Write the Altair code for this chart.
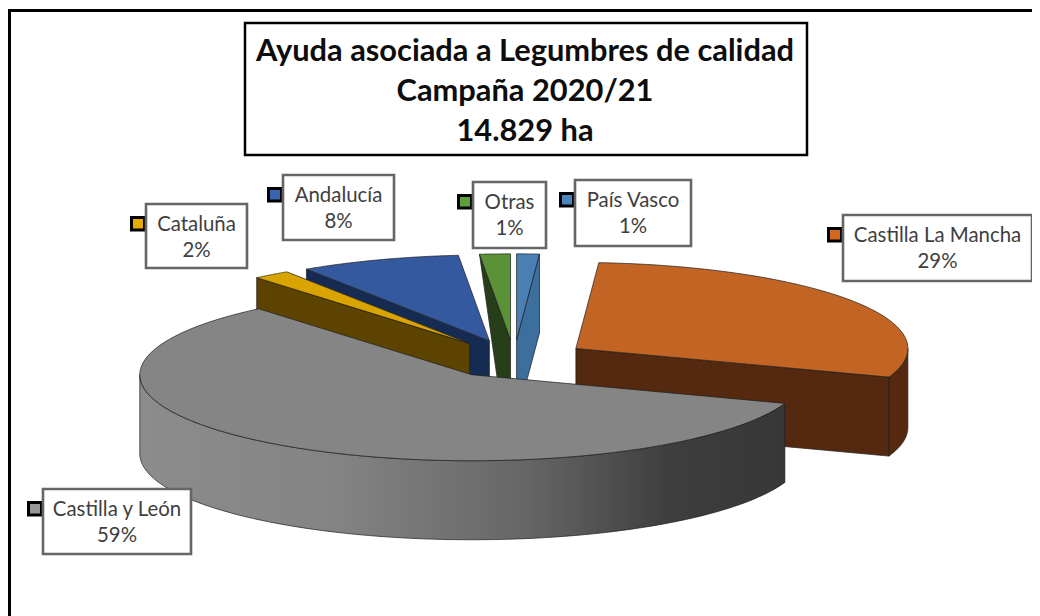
import numpy as np
import pandas as pd
import altair as alt

# ---- data ----
regions = ["País Vasco", "Castilla La Mancha", "Castilla y León", "Cataluña", "Andalucía", "Otras"]
shares = [1.1, 29.3, 58.51, 1.8, 7.8, 1.49]
title_lines = ["Ayuda asociada a Legumbres de calidad", "Campaña 2020/21", "14.829 ha"]

# ---- styles ----
top_col = {"País Vasco": "#4A7FB3", "Castilla La Mancha": "#C26524", "Castilla y León": "#858585",
           "Cataluña": "#D9A300", "Andalucía": "#34599F", "Otras": "#5B9137"}
side_col = {"País Vasco": "#3C6F9E", "Castilla La Mancha": "#54290F", "Castilla y León": "#555555",
            "Cataluña": "#5C4300", "Andalucía": "#162B52", "Otras": "#273F18"}
key_col = {"País Vasco": "#4A86BC", "Castilla La Mancha": "#D2691E", "Castilla y León": "#969696",
           "Cataluña": "#E5AC00", "Andalucía": "#3A64B0", "Otras": "#5F9E3A"}
edge = "#1c1c1c"
font = "Lato"

# ---- layout (pie projection and label boxes) ----
CX, CY = 514.0, 359.0
A, B = 332.0, 86.0
DEPTH = 79.0
EXPLODE = 0.223
PAGE_W, PAGE_H = 1032, 616
box_layout = {  # x0, x1, y0, y1
    "Cataluña": (146, 247, 204, 268),
    "Andalucía": (283, 394, 175, 240),
    "Otras": (473, 546, 182, 248),
    "País Vasco": (575, 691, 180, 246),
    "Castilla La Mancha": (843, 1032, 215, 281),
    "Castilla y León": (43, 191, 489, 554),
}

xs = alt.Scale(domain=[8, PAGE_W], range=[0, PAGE_W - 8], nice=False, zero=False)
ys = alt.Scale(domain=[8, PAGE_H], range=[0, PAGE_H - 8], nice=False, zero=False)
X = lambda f="x": alt.X(f"{f}:Q", scale=xs, axis=None)
Y = lambda f="y": alt.Y(f"{f}:Q", scale=ys, axis=None)


def poly(points, fill, stroke=edge, sw=0.7):
    pts = list(points) + [points[0]]
    df = pd.DataFrame({"x": [p[0] for p in pts], "y": [p[1] for p in pts], "i": range(len(pts))})
    return alt.Chart(df).mark_line(fill=fill, stroke=stroke, strokeWidth=sw, interpolate="linear-closed",
                                   clip=False).encode(
        x=X(), y=Y(), order="i:Q")


def arc(c, t0, t1):
    return [(c[0] + A * np.sin(t), c[1] - B * np.cos(t)) for t in np.radians(np.linspace(t0, t1, 90))]


down = lambda p: (p[0], p[1] + DEPTH)

spans, cum = {}, 0.0
for n, s in zip(regions, shares):
    spans[n] = (cum * 3.6, (cum + s) * 3.6)
    cum += s

centres = {}
for n, (t0, t1) in spans.items():
    m = np.radians((t0 + t1) / 2)
    centres[n] = (CX + EXPLODE * A * np.sin(m), CY - EXPLODE * B * np.cos(m))

gray_side = alt.Gradient(
    gradient="linear", x1=0, x2=1, y1=0, y2=0,
    stops=[alt.GradientStop(color="#8C8C8C", offset=0), alt.GradientStop(color="#848484", offset=0.3),
           alt.GradientStop(color="#666666", offset=0.6), alt.GradientStop(color="#3E3E3E", offset=0.82),
           alt.GradientStop(color="#373737", offset=1)])

layers = []
for n in ["Otras", "País Vasco", "Andalucía", "Cataluña", "Castilla La Mancha", "Castilla y León"]:
    t0, t1 = spans[n]
    c = centres[n]
    top = [c] + arc(c, t0, t1)
    first, last = top[1], top[-1]
    if n == "Otras":
        mid = (first[0] + 0.6 * (c[0] - first[0]), first[1] + 0.6 * (c[1] - first[1]))
        layers.append(poly([first, c, down(c), down(mid)], side_col[n]))
    elif n in ("Andalucía", "Cataluña"):
        layers.append(poly([first, c, down(c), down(first)], side_col[n]))
    elif n in ("País Vasco", "Castilla La Mancha"):
        layers.append(poly([last, c, down(c), down(last)], side_col[n]))
    lo, hi = max(t0, 90), min(t1, 270)
    if lo < hi:
        front = arc(c, lo, hi)
        fill = gray_side if n == "Castilla y León" else side_col[n]
        layers.append(poly(front + [down(p) for p in reversed(front)], fill))
    layers.append(poly(top, top_col[n]))

# frame and title box
frame = alt.Chart(pd.DataFrame({"x": [8, 8], "x2": [PAGE_W, 11], "y": [9, 9], "y2": [12, PAGE_H]})).mark_rect(
    color="black").encode(x=X(), x2="x2:Q", y=Y(), y2="y2:Q")
title_box = alt.Chart(pd.DataFrame({"x": [245], "x2": [807], "y": [23], "y2": [155]})).mark_rect(
    fill="white", stroke="black", strokeWidth=2.5).encode(x=X(), x2="x2:Q", y=Y(), y2="y2:Q")
title_df = pd.DataFrame({"t": title_lines, "x": [525, 525, 525], "y": [61, 101, 141]})
title_text = alt.Chart(title_df).mark_text(font=font, fontWeight="bold", fontSize=30.8, color="#0d0d0d",
                                           align="center", baseline="alphabetic").encode(
    x=X(), y=Y(), text="t:N")

# data labels
rows = []
for n, s in zip(regions, shares):
    x0, x1, y0, y1 = box_layout[n]
    rows.append({"name": n, "pct": f"{round(s)}%", "x": x0, "x2": x1, "y": y0, "y2": y1,
                 "tx": (x0 + x1) / 2, "y_a": y0 + 27, "y_b": y0 + 53,
                 "kx": x0 - 14.5, "kx2": x0 - 1.5, "ky": y0 + 13.5, "ky2": y0 + 26, "kc": key_col[n]})
lab = pd.DataFrame(rows)
boxes = alt.Chart(lab).mark_rect(fill="white", stroke="#666666", strokeWidth=2.6).encode(
    x=X(), x2="x2:Q", y=Y(), y2="y2:Q")
keys = alt.Chart(lab).mark_rect(stroke="black", strokeWidth=3).encode(
    x=X("kx"), x2="kx2:Q", y=Y("ky"), y2="ky2:Q",
    fill=alt.Fill("kc:N", scale=None, legend=None))
names = alt.Chart(lab).mark_text(font=font, fontSize=20.4, color="#404040", align="center",
                                 baseline="alphabetic").encode(x=X("tx"), y=Y("y_a"), text="name:N")
pcts = alt.Chart(lab).mark_text(font=font, fontSize=20.4, color="#404040", align="center",
                                baseline="alphabetic").encode(x=X("tx"), y=Y("y_b"), text="pct:N")

chart = alt.layer(
    *layers, frame, title_box, title_text, keys, boxes, names, pcts
).properties(width=PAGE_W - 8, height=PAGE_H - 8, padding=0, background="white",
             autosize=alt.AutoSizeParams(type="none")).configure_view(stroke=None)

chart.save("out.html", embed_options={"renderer": "svg", "actions": False})
